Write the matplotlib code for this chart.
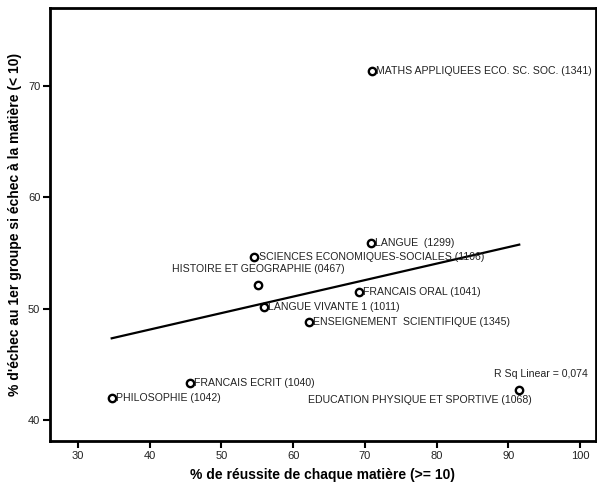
import numpy as np
import matplotlib.pyplot as plt

plt.rcParams['font.family'] = ['Liberation Sans', 'DejaVu Sans']

subjects = [
    "MATHS APPLIQUEES ECO. SC. SOC. (1341)",
    "LANGUE  (1299)",
    "SCIENCES ECONOMIQUES-SOCIALES (1106)",
    "HISTOIRE ET GEOGRAPHIE (0467)",
    "LANGUE VIVANTE 1 (1011)",
    "FRANCAIS ORAL (1041)",
    "ENSEIGNEMENT  SCIENTIFIQUE (1345)",
    "FRANCAIS ECRIT (1040)",
    "PHILOSOPHIE (1042)",
    "EDUCATION PHYSIQUE ET SPORTIVE (1068)",
]
reussite = [71.0, 70.8, 54.6, 55.1, 55.9, 69.1, 62.2, 45.6, 34.7, 91.5]
echec = [71.3, 55.9, 54.6, 52.1, 50.1, 51.5, 48.8, 43.3, 42.0, 42.7]
r2_text = "R Sq Linear = 0,074"

xticks = [30, 40, 50, 60, 70, 80, 90, 100]
yticks = [40, 50, 60, 70]

dpi = 100
fig = plt.figure(figsize=(597/dpi, 486/dpi), dpi=dpi)
ax = fig.add_axes([50/597, 1 - 441/486, 546/597, 433/486])

ax.scatter(reussite, echec, s=28, facecolors='white', edgecolors='black',
           linewidths=1.7, zorder=3)

# linear fit
slope, inter = np.polyfit(reussite, echec, 1)
xs = np.array([min(reussite), max(reussite)])
ax.plot(xs, slope * xs + inter, color='black', lw=1.6, zorder=2)

fs = 7.6
for name, x, y in zip(subjects, reussite, echec):
    if name.startswith("HISTOIRE"):
        ax.annotate(name, (x, y), xytext=(0, 8), textcoords='offset points',
                    ha='center', va='bottom', fontsize=fs, color='#222222')
    elif name.startswith("EDUCATION"):
        ax.annotate(name, (x, y), xytext=(9, -7), textcoords='offset points',
                    ha='right', va='center', fontsize=fs, color='#222222')
    else:
        ax.annotate(name, (x, y), xytext=(3, 0), textcoords='offset points',
                    ha='left', va='center', fontsize=fs, color='#222222')

ax.text(0.985, 0.155, r2_text, transform=ax.transAxes,
        ha='right', va='center', fontsize=fs, color='#222222')

ax.set_xlim(26.1, 102.2)
ax.set_ylim(38.1, 77.0)
ax.set_xticks(xticks)
ax.set_yticks(yticks)
ax.tick_params(direction='out', length=5, width=1.5, labelsize=8,
               labelcolor='#222222', pad=2)
for s in ax.spines.values():
    s.set_linewidth(2)

ax.set_xlabel("% de réussite de chaque matière (>= 10)", fontsize=10,
              fontweight='bold', labelpad=5)
ax.set_ylabel("% d'échec au 1er groupe si échec à la matière (< 10)",
              fontsize=10, fontweight='bold', labelpad=4)

plt.savefig("out.png", dpi=dpi)
